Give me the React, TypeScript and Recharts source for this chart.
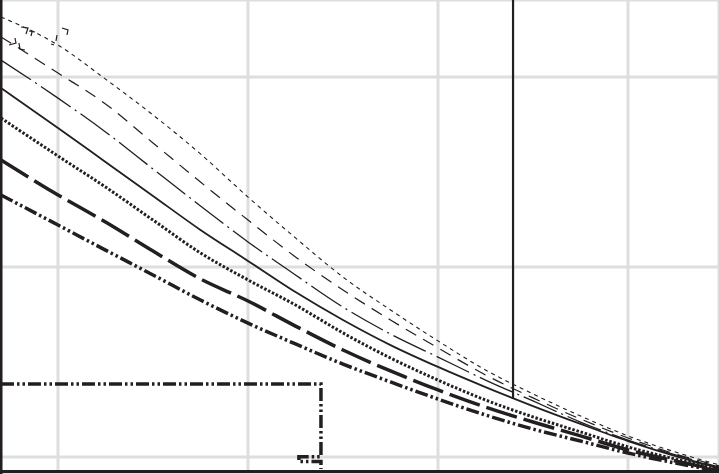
import React from "react";
import { LineChart, Line, XAxis, YAxis, CartesianGrid, ReferenceLine } from "recharts";

const xs = [-0.3, 0, 0.25, 0.5, 0.75, 1, 1.25, 1.5, 1.75, 2, 2.25, 2.5, 2.75, 3, 3.25, 3.48];

const curve1 = [2.316, 2.168, 1.989, 1.8, 1.595, 1.368, 1.153, 0.947, 0.774, 0.611, 0.458, 0.332, 0.216, 0.111, 0.026, -0.042];
const curve2 = [2.211, 2.021, 1.858, 1.653, 1.447, 1.247, 1.053, 0.879, 0.721, 0.574, 0.432, 0.311, 0.2, 0.1, 0.016, -0.047];
const curve3 = [2.089, 1.889, 1.711, 1.516, 1.321, 1.132, 0.958, 0.789, 0.647, 0.526, 0.405, 0.295, 0.184, 0.089, 0.011, -0.053];
const curve4 = [1.942, 1.732, 1.553, 1.374, 1.195, 1.032, 0.868, 0.721, 0.589, 0.474, 0.368, 0.268, 0.174, 0.084, 0.005, -0.058];
const curve5 = [1.784, 1.584, 1.421, 1.247, 1.074, 0.932, 0.8, 0.653, 0.521, 0.405, 0.3, 0.211, 0.132, 0.053, -0.011, -0.063];
const curve6 = [1.563, 1.379, 1.237, 1.084, 0.937, 0.821, 0.689, 0.563, 0.453, 0.353, 0.263, 0.184, 0.111, 0.037, -0.021, -0.068];
const curve7 = [1.379, 1.221, 1.089, 0.958, 0.826, 0.705, 0.595, 0.489, 0.395, 0.305, 0.221, 0.147, 0.084, 0.021, -0.032, -0.074];

const markerX = [2.395, 2.395];
const markerY = [2.6, 0.305];

const stepX = [-0.3, 1.384, 1.384, 1.268, 1.268, 1.384, 1.384];
const stepY = [0.384, 0.384, 0.001, 0.001, -0.0237, -0.0237, -0.063];

// small bracket-shaped fragments near the top-left (null = break)
const fragX = [-0.2579, -0.2211, -0.2263, 0, -0.2053, -0.2, -0.1737, 0, -0.1947, -0.1579, -0.1684, 0, -0.1526, -0.1211, 0, -0.1368, -0.1421, 0, 0.0211, 0.0526, 0.0474, 0, -0.0053, -0.0105, 0, -0.0368, -0.0211];
const fragY = [2.1684, 2.1789, 2.2053, null, 2.1789, 2.1474, 2.1421, null, 2.2632, 2.2579, 2.2263, null, 2.2421, 2.2368, null, 2.2368, 2.2158, null, 2.2579, 2.2474, 2.2211, null, 2.2211, 2.1895, null, 2.1737, 2.1684];

const xTicks = [0, 1, 2, 3];
const yTicks = [0, 1, 2];

const toPts = (x: number[], y: (number | null)[]) => x.map((v, i) => ({ x: v, y: y[i] }));

const INK = "#231f20";

export default function App() {
  const series = [
    { d: curve1, w: 1.1, dash: "4 4" },
    { d: curve2, w: 1.2, dash: "12 8" },
    { d: curve3, w: 1.3, dash: "36 5 2 5" },
    { d: curve4, w: 1.8, dash: undefined },
    { d: curve5, w: 3, dash: "2.5 1.8" },
    { d: curve6, w: 3.5, dash: "32 7" },
    { d: curve7, w: 3.5, dash: "13 3 2.5 3 2.5 3" },
  ];
  const common = { dot: false, activeDot: false, isAnimationActive: false, legendType: "none" as const };
  return (
    <div style={{ position: "absolute", left: 0, top: 0, width: 719, height: 474, background: "#fff" }}>
      <LineChart width={719} height={474} margin={{ top: 0, right: 0, bottom: 0, left: 0 }}>
        <CartesianGrid stroke="#dedede" strokeWidth={3} />
        <XAxis type="number" dataKey="x" domain={[-0.30526, 3.47895]} ticks={xTicks} hide allowDataOverflow />
        <YAxis type="number" dataKey="y" domain={[-0.08947, 2.40526]} ticks={yTicks} hide allowDataOverflow />
        {series.map((s, i) => (
          <Line
            key={i}
            data={toPts(xs, s.d)}
            dataKey="y"
            type="monotone"
            stroke={INK}
            strokeWidth={s.w}
            strokeDasharray={s.dash}
            {...common}
          />
        ))}
        <Line data={toPts(markerX, markerY)} dataKey="y" type="linear" stroke={INK} strokeWidth={2.2} {...common} />
        <Line data={toPts(stepX, stepY)} dataKey="y" type="linear" stroke={INK} strokeWidth={3.5} strokeDasharray="13 3 2.5 3 2.5 3" {...common} />
        <Line data={toPts(fragX, fragY)} dataKey="y" type="linear" stroke={INK} strokeWidth={1.2} connectNulls={false} {...common} />
        <ReferenceLine x={-0.2989} stroke={INK} strokeWidth={2.6} />
        <ReferenceLine y={-0.0763} stroke={INK} strokeWidth={3} />
      </LineChart>
    </div>
  );
}
